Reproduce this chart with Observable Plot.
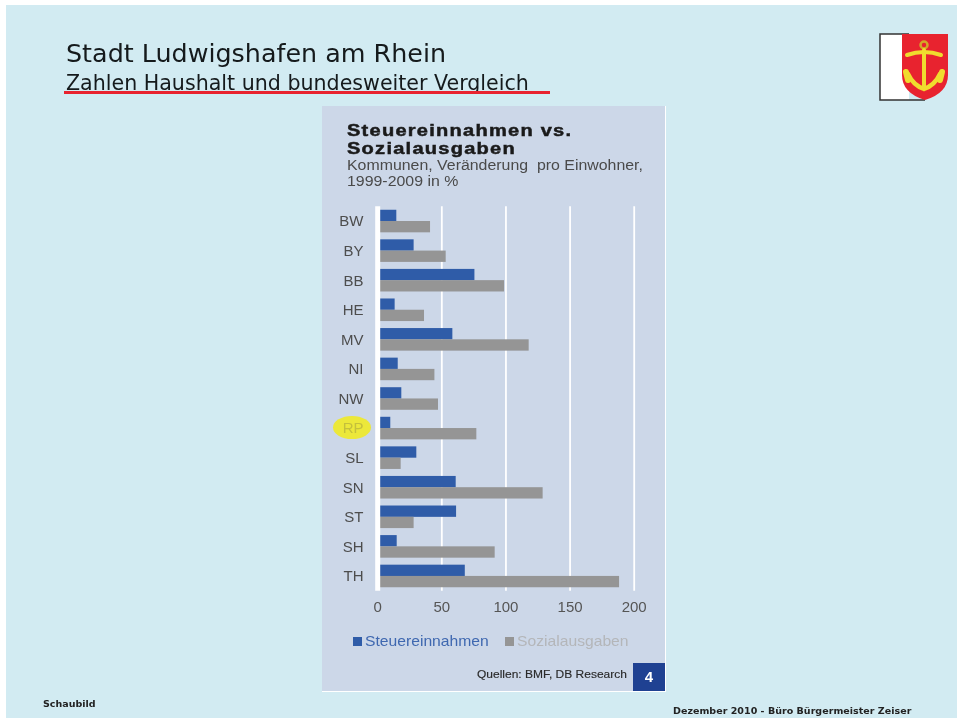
<!DOCTYPE html>
<html><head><meta charset="utf-8">
<script src="https://cdn.jsdelivr.net/npm/d3@7"></script>
<script src="https://cdn.jsdelivr.net/npm/@observablehq/plot@0.6"></script>
<style>
html,body{margin:0;padding:0;background:#fff;width:957px;height:718px;overflow:hidden}
#stage{position:relative;width:957px;height:718px;overflow:hidden;filter:blur(0.45px)}
#stage>*{position:absolute}
.t{white-space:pre;line-height:1;transform-origin:left center}
.s{font-family:"Liberation Sans",Arial,sans-serif}
</style></head><body>
<div id="stage">
<div style="left:6px;top:5px;width:951px;height:713px;background:#d2ebf2"></div>
<div class="t" style="left:66px;top:38px;font:25.4px 'DejaVu Sans';color:#151a1c">Stadt Ludwigshafen am Rhein</div>
<div class="t" style="left:66px;top:70.5px;font:20.6px 'DejaVu Sans';color:#151a1c">Zahlen Haushalt und bundesweiter Vergleich</div>
<div style="left:64px;top:91px;width:486px;height:3px;background:#e8232f"></div>
<svg style="left:879px;top:33px" width="70" height="68" viewBox="0 0 70 68">
<path d="M46 67H1V1H30V67" fill="#fff" stroke="none"/>
<path d="M46 67H1V1H30" fill="none" stroke="#333" stroke-width="1.5"/>
<path d="M23 1H69V42Q69 60 46 67Q23 60 23 42Z" fill="#e8232f"/>
<g stroke="#f0dc2e" fill="none" stroke-linecap="round">
<circle cx="45" cy="12" r="3.5" stroke-width="2.5" stroke="#d2a926"/>
<path d="M28 22Q45 16 62 22" stroke-width="4"/>
<path d="M45 17V55" stroke-width="4"/>
<path d="M29 41Q34 52 45 56Q56 52 61 41" stroke-width="4.5"/>
<path d="M27 39L29 47M63 39L61 47" stroke-width="6"/>
</g></svg>
<div style="left:322px;top:106px;width:343px;height:585px;background:#ccd7e8;border-right:1.5px solid #fff;border-bottom:1.5px solid #fff"></div>
<div class="t s" style="left:347px;top:122px;font-weight:bold;font-size:17px;letter-spacing:1.05px;color:#1a1a1a;-webkit-text-stroke:.5px #1a1a1a;line-height:17.5px;transform:scaleX(1.18)">Steuereinnahmen vs.
Sozialausgaben</div>
<div class="t s" style="left:347px;top:157px;font-size:14px;color:#4a4a4a;line-height:16px;transform:scaleX(1.135)">Kommunen, Veränderung  pro Einwohner,
1999-2009 in %</div>
<div style="left:333px;top:416px;width:38px;height:23px;border-radius:50%;background:#ece83a"></div>
<div id="chart" style="left:322px;top:105.5px"></div>
<div style="left:353px;top:637px;width:8.5px;height:8.5px;background:#2f5ca8"></div>
<div class="t s" style="left:364.5px;top:633px;font-size:15px;color:#3f68b0;transform:scaleX(1.045)">Steuereinnahmen</div>
<div style="left:505px;top:637px;width:8.5px;height:8.5px;background:#959595"></div>
<div class="t s" style="left:517px;top:633px;font-size:15px;color:#b4b6b9;transform:scaleX(1.045)">Sozialausgaben</div>
<div class="t s" style="left:477px;top:669px;font-size:10.8px;color:#2a2a2a;-webkit-text-stroke:.15px #2a2a2a;transform:scaleX(1.11)">Quellen: BMF, DB Research</div>
<div class="s" style="left:633px;top:663px;width:32px;height:28px;background:#1f4192;color:#fff;font-weight:bold;font-size:15px;line-height:28px;text-align:center">4</div>
<div class="t" style="left:43px;top:698px;font:bold 9.5px 'DejaVu Sans';color:#222">Schaubild</div>
<div class="t" style="left:673px;top:705px;font:bold 9.5px 'DejaVu Sans';letter-spacing:.03px;color:#222">Dezember 2010 - Büro Bürgermeister Zeiser</div>
</div>
<script>
const states = ["BW","BY","BB","HE","MV","NI","NW","RP","SL","SN","ST","SH","TH"];
const steuereinnahmen = [14.9,28.4,75.8,13.6,58.6,16,18.8,10.2,30.5,61.2,61.5,15.2,68.3];
const sozialausgaben = [41.2,53.4,98.9,36.5,118.1,44.6,47.4,77.3,18.3,129,28.4,91.6,188.6];
const xTicks = [0,50,100,150,200];

const blue = states.map((s,i)=>({state:s,value:steuereinnahmen[i]}));
const gray = states.map((s,i)=>({state:s,value:sozialausgaben[i]}));

const chart = Plot.plot({
  width:344, height:586,
  marginLeft:55.2, marginRight:32.3, marginTop:100.25, marginBottom:101.25,
  style:{background:"transparent",fontFamily:"'Liberation Sans',Arial,sans-serif",overflow:"visible"},
  x:{domain:[0,200],ticks:xTicks},
  y:{domain:states,padding:0,round:false},
  marks:[
    Plot.ruleX(xTicks.slice(1),{stroke:"#fff",strokeWidth:1.8}),
    Plot.barX(blue,{x:"value",y:"state",fill:"#2f5ca8",insetTop:3.5,insetBottom:14.75}),
    Plot.barX(gray,{x:"value",y:"state",fill:"#959595",insetTop:14.75,insetBottom:3.5}),
    Plot.ruleX([0],{stroke:"#fff",strokeWidth:5}),
    Plot.axisX({ticks:xTicks,tickSize:0,tickPadding:10,fontSize:15,color:"#555",label:null}),
    Plot.axisY(states.filter(s=>s!=="RP"),{tickSize:0,tickPadding:14.2,fontSize:15,color:"#4d4d4d",label:null}),
    Plot.axisY(["RP"],{tickSize:0,tickPadding:14.2,fontSize:15,color:"#c4c03c",label:null})
  ]
});
document.getElementById("chart").append(chart);
</script>
</body></html>
